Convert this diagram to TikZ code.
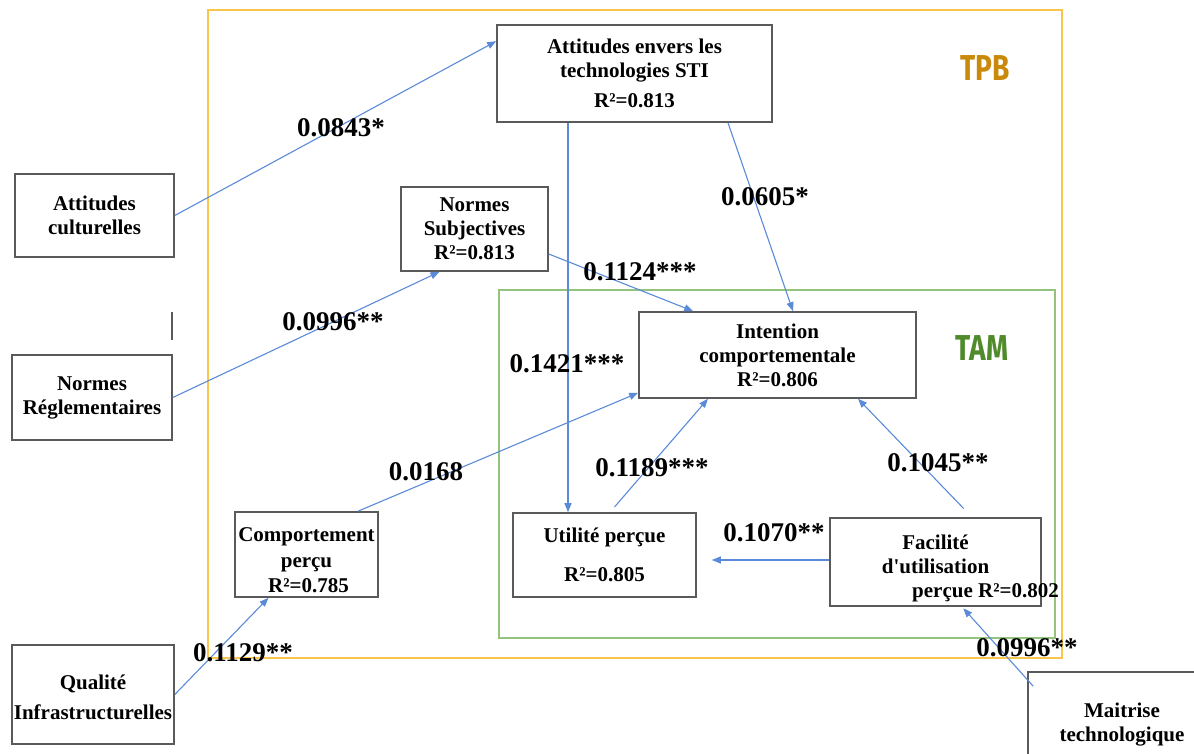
\documentclass[tikz,border=0pt]{standalone}
\usepackage{fontspec}
\setmainfont{Liberation Serif}
\newfontfamily\tagfont[FakeStretch=0.78]{Fira Sans}
\usetikzlibrary{arrows.meta,calc}

\definecolor{arrowblue}{HTML}{5B8AD8}
\definecolor{tpbframe}{HTML}{F7C64A}
\definecolor{tamframe}{HTML}{93C47D}
\definecolor{tpbtext}{HTML}{C98A0B}
\definecolor{tamtext}{HTML}{4F8A2B}
\definecolor{boxline}{HTML}{5A5A5A}

\begin{document}
\begin{tikzpicture}[x=1pt,y=-1pt,
  construct/.style={draw=boxline, line width=1.6pt, fill=white, inner sep=0pt,
    align=center, font=\fontsize{21}{24}\selectfont\bfseries},
  coef/.style={inner sep=0pt, font=\fontsize{27}{30}\selectfont\bfseries},
  link/.style={draw=arrowblue, line width=1.1pt, -{Triangle[length=9pt,width=7pt]}},
  frametag/.style={inner sep=0pt, font=\tagfont\bfseries\fontsize{36}{36}\selectfont}]

\clip (0,0) rectangle (1194,754);

% model frames
\draw[tpbframe, line width=2pt] (208,10) rectangle (1062,658);
\draw[tamframe, line width=2pt] (499,290) rectangle (1055,638);
\node[frametag, text=tpbtext] (tpb) at (985,68) {TPB};
\node[frametag, text=tamtext] (tam) at (982,348) {TAM};

% stray mark beside the regulatory norms box
\draw[boxline, line width=2pt] (172,312) -- (172,340);

% constructs
\node[construct, minimum width=275pt, minimum height=97pt] (ate) at (634.5,73.5)
  {Attitudes envers les\\technologies STI\\[6pt]R²=0.813};
\node[construct, minimum width=159pt, minimum height=83pt] (ac) at (94.5,215.5)
  {Attitudes\\culturelles};
\node[construct, minimum width=147pt, minimum height=84pt] (ns) at (474.5,229)
  {Normes\\Subjectives\\R²=0.813};
\node[construct, minimum width=160pt, minimum height=85pt] (nr) at (92,397.5)
  {Normes\\Réglementaires};
\node[construct, minimum width=277pt, minimum height=86pt] (ic) at (777.5,355)
  {Intention\\comportementale\\R²=0.806};
\node[construct, minimum width=143pt, minimum height=85pt] (cp) at (306.5,554.5)
  {\rule{0pt}{26pt}\makebox[0pt]{Comportement}\\[1.5pt]perçu\\[1.5pt]\hspace*{4pt}R²=0.785};
\node[construct, minimum width=183pt, minimum height=84pt] (up) at (604.5,555)
  {Utilité perçue\\[15pt]R²=0.805};
\node[construct, minimum width=211pt, minimum height=88pt] (fu) at (935.5,562)
  {\rule{0pt}{27pt}Facilité\\d\textquotesingle utilisation\\\makebox[0pt]{\hspace*{100pt}perçue R²=0.802}};
\node[construct, minimum width=162pt, minimum height=99pt] (qi) at (93,694.5)
  {\rule{0pt}{21pt}Qualité\\[6pt]\makebox[0pt]{Infrastructurelles}};
\node[construct, minimum width=188pt, minimum height=100pt] (mt) at (1122,722)
  {\rule{0pt}{20pt}Maitrise\\technologique};

% structural paths
\draw[link] (ac.east) -- ([yshift=-17pt]ate.north west);
\draw[link] (nr.east) -- ([xshift=-35pt]ns.south);
\draw[link] ([yshift=-25pt]ns.east) -- ([xshift=55pt]ic.north west);
\draw[link] ([xshift=93.5pt]ate.south) -- ([xshift=15.5pt]ic.north);
\draw[link] ([xshift=-66.5pt]ate.south) -- ([xshift=-36.5pt]up.north);
\draw[link] ([xshift=51.5pt]cp.north) -- ([yshift=6pt]ic.south west);
\draw[link, shorten <=7pt] ([xshift=5.5pt]up.north) -- ([xshift=-69.5pt]ic.south);
\draw[link, shorten <=12pt] ([xshift=36.5pt]fu.north) -- ([xshift=80.5pt]ic.south);
\draw[link, shorten >=15pt] ([yshift=2pt]fu.west) -- ([yshift=-5pt]up.east);
\draw[link] (qi.east) -- ([xshift=-38pt]cp.south);
\draw[link, shorten >=2pt] ([xshift=6pt,yshift=-15pt]mt.north west) -- ([xshift=26.5pt]fu.south);

% path coefficients
\node[coef] (k1) at (341,128) {0.0843*};
\node[coef] (k2) at (333,322) {0.0996**};
\node[coef] (k3) at (640,272) {0.1124***};
\node[coef] (k4) at (765,197) {0.0605*};
\node[coef] (k5) at (567,364) {0.1421***};
\node[coef] (k6) at (426,472) {0.0168};
\node[coef] (k7) at (652,468) {0.1189***};
\node[coef] (k8) at (938,463) {0.1045**};
\node[coef] (k9) at (774,533) {0.1070**};
\node[coef] (k10) at (243,653) {0.1129**};
\node[coef] (k11) at (1027,648) {0.0996**};
\end{tikzpicture}
\end{document}
